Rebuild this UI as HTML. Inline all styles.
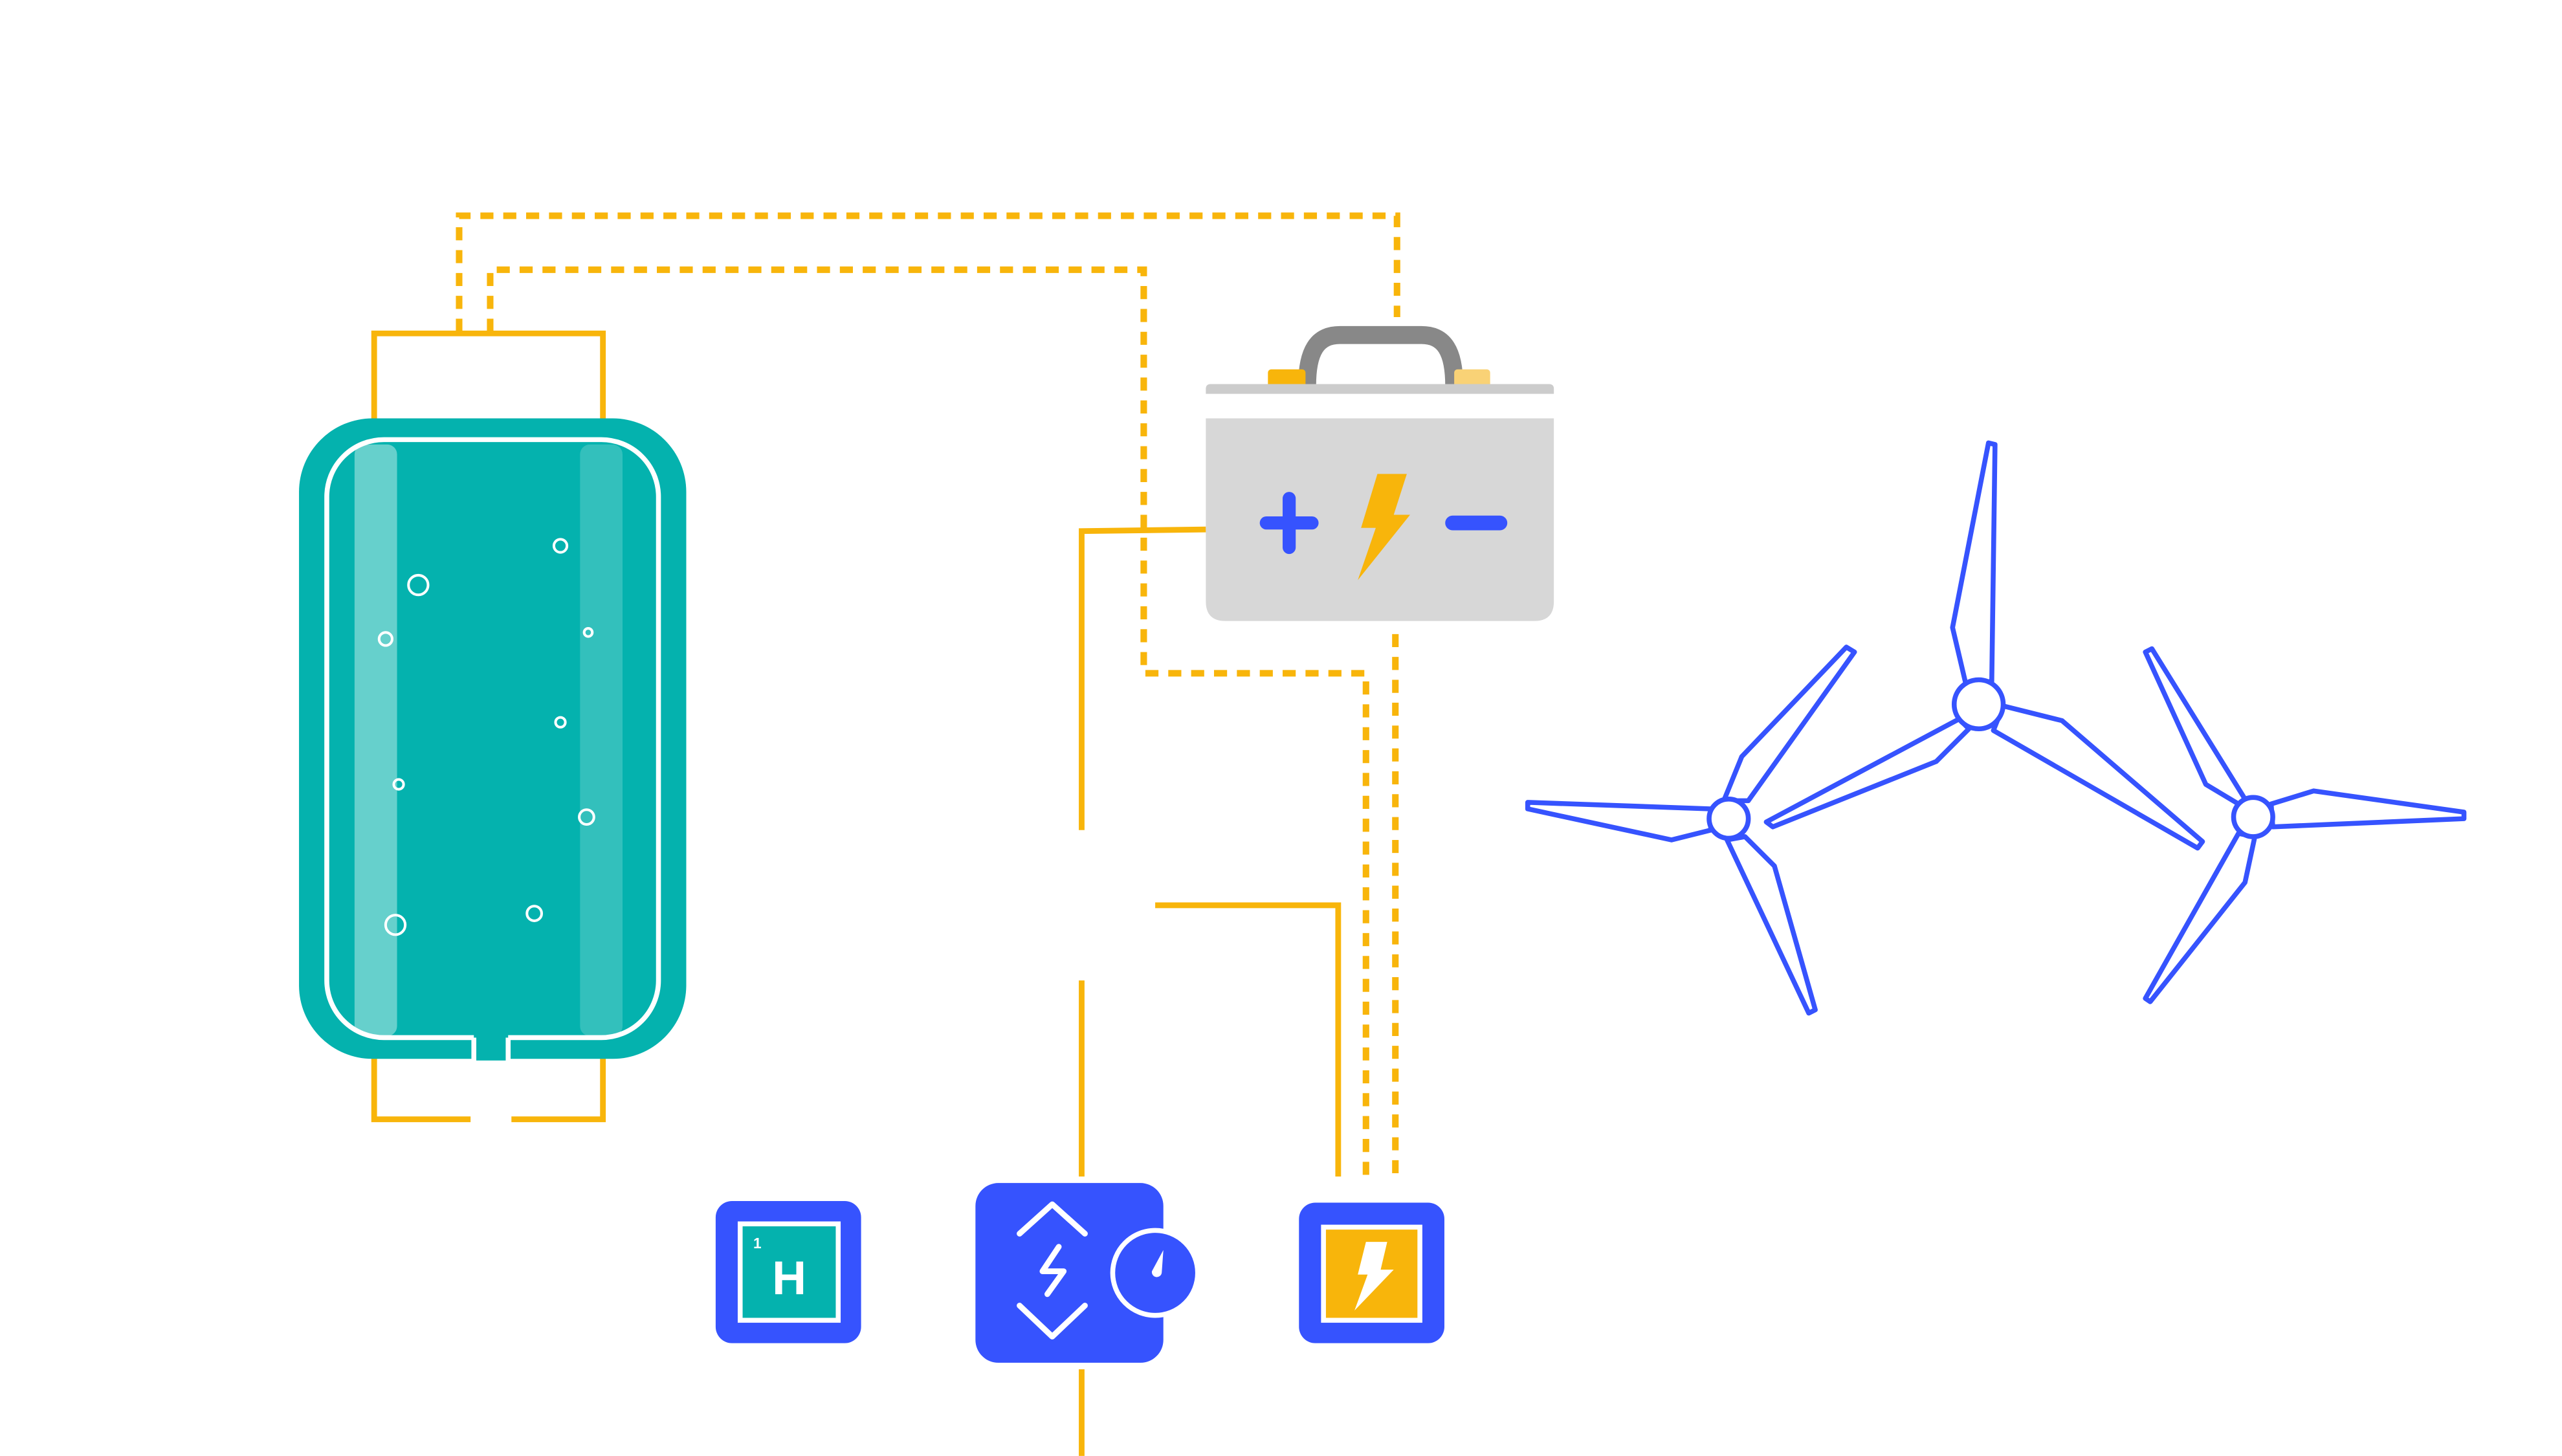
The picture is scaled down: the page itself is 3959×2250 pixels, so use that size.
<!DOCTYPE html>
<html><head><meta charset="utf-8"><style>html,body{margin:0;padding:0;background:#fff}svg{display:block}</style></head>
<body>
<svg width="3959" height="2250" viewBox="0 0 1568 891" xmlns="http://www.w3.org/2000/svg">
<rect width="1568" height="891" fill="#fff"/>
<g fill="none" stroke="#f8b50b" stroke-width="4" stroke-dasharray="8 6">
<path d="M281 203 V132 H855 V194"/>
<path d="M854 388 V720"/>
<path d="M300 203 V165 H700 V412 H836 V720"/>
</g>
<g fill="none" stroke="#f8b50b" stroke-width="3.5">
<path d="M229 268 V204 H369 V268"/>
<path d="M288 685 H229 V635 M313 685 H369 V635"/>
<path d="M738 324 L662 325 V508"/>
<path d="M662 600 V720"/>
<path d="M662 838 V891"/>
<path d="M707 554 H819 V720"/>
</g>
<rect x="183" y="256" width="237" height="392" rx="45" fill="#04b2ae"/>
<rect x="217" y="272" width="26" height="362" rx="6" fill="#66d0cc"/>
<rect x="355" y="272" width="26" height="362" rx="6" fill="#33c0bc"/>
<path d="M290 635 H235 A35 35 0 0 1 200 600 V304 A35 35 0 0 1 235 269 H368 A35 35 0 0 1 403 304 V600 A35 35 0 0 1 368 635 H311" fill="none" stroke="#fff" stroke-width="3"/>
<rect x="290" y="635" width="21" height="14" fill="#04b2ae"/>
<path d="M290 635 V690 M311 635 V690" stroke="#fff" stroke-width="3"/>
<g fill="none" stroke="#fff" stroke-width="1.6">
<circle cx="256" cy="358" r="6"/><circle cx="343" cy="334" r="4"/><circle cx="236" cy="391" r="4"/>
<circle cx="360" cy="387" r="2.5"/><circle cx="343" cy="442" r="3"/><circle cx="244" cy="480" r="3"/>
<circle cx="359" cy="500" r="4.5"/><circle cx="242" cy="566" r="6"/><circle cx="327" cy="559" r="4.5"/>
</g>
<path d="M800 236 C800 215 806 205 820 205 H870 C884 205 890 215 890 236" fill="none" stroke="#888" stroke-width="11"/>
<rect x="776" y="226" width="23" height="11" rx="2" fill="#f8b50b"/>
<rect x="890" y="226" width="22" height="11" rx="2" fill="#f9d276"/>
<path d="M738 241 V238 Q738 235 741 235 H948 Q951 235 951 238 V241 Z" fill="#ccc"/>
<path d="M738 256 H951 V368 Q951 380 939 380 H750 Q738 380 738 368 Z" fill="#d7d7d7"/>
<path d="M789 305 V335 M775 320 H803" stroke="#3653fe" stroke-width="8" stroke-linecap="round"/>
<path d="M889 320 H918" stroke="#3653fe" stroke-width="9" stroke-linecap="round"/>
<path d="M843 290 H861 L853 315 H863 L831 355 L842 323 H833 Z" fill="#f8b50b"/>
<rect x="438" y="735" width="89" height="87" rx="10" fill="#3653fe"/>
<rect x="453" y="749" width="60" height="59" fill="#04b2ae" stroke="#fff" stroke-width="3"/>
<text x="461" y="764" font-family="Liberation Sans, sans-serif" font-size="9" font-weight="bold" fill="#fff">1</text>
<text x="483" y="792" text-anchor="middle" font-family="Liberation Sans, sans-serif" font-size="29" font-weight="bold" fill="#fff">H</text>
<rect x="597" y="724" width="115" height="110" rx="14" fill="#3653fe"/>
<g fill="none" stroke="#fff" stroke-width="3.5" stroke-linecap="round" stroke-linejoin="round">
<path d="M624 755 L644 737 L664 755"/>
<path d="M624 799 L644 818 L664 799"/>
<path d="M648 763 L638 778 H651 L641 792"/>
</g>
<circle cx="707" cy="779" r="26" fill="#3653fe" stroke="#fff" stroke-width="3"/>
<path d="M712 765 L705 778 A3 3 0 1 0 711 779 Z" fill="#fff"/>
<rect x="795" y="736" width="89" height="86" rx="10" fill="#3653fe"/>
<rect x="810" y="751" width="59" height="57" fill="#f8b50b" stroke="#fff" stroke-width="3"/>
<path d="M836 760 H849 L845 777 H853 L829 802 L837 780 H831 Z" fill="#fff"/>
<g fill="#fff" stroke="#3653fe" stroke-width="3" stroke-linejoin="round">
<path d="M1055 490 L1066 463 L1130 396 L1135 399 L1070 490 Z"/>
<path d="M1047 495 L935 491 L935 495 L1023 514 L1047 508 Z"/>
<path d="M1057 514 L1107 620 L1111 618 L1086 530 L1068 512 Z"/>
<circle cx="1058" cy="501" r="12"/>
<path d="M1203 418 L1195 384 L1217 271 L1221 272 L1219 417 Z"/>
<path d="M1199 440 L1081 503 L1085 506 L1185 466 L1205 446 Z"/>
<path d="M1226 432 L1262 441 L1348 515 L1345 519 L1220 447 Z"/>
<circle cx="1211" cy="431" r="15"/>
<path d="M1370 492 L1350 480 L1313 399 L1317 397 L1374 489 Z"/>
<path d="M1390 492 L1416 484 L1508 497 L1508 501 L1391 506 Z"/>
<path d="M1380 512 L1374 540 L1316 613 L1313 611 L1370 510 Z"/>
<circle cx="1379" cy="500" r="12"/>
</g>
</svg>
</body></html>
